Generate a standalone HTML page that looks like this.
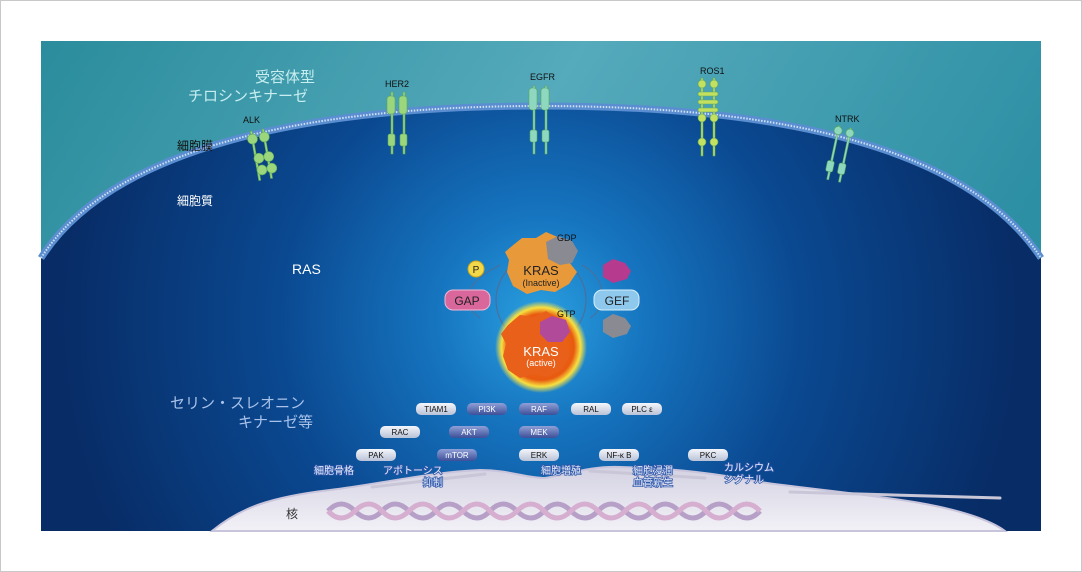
<!DOCTYPE html>
<html><head><meta charset="utf-8"><style>
html,body{margin:0;padding:0;background:#fff;}
body{width:1082px;height:572px;position:relative;overflow:hidden;font-family:"Liberation Sans","Noto Sans CJK JP",sans-serif;}
svg{position:absolute;left:0;top:0;}
</style></head><body>
<svg width="1082" height="572" viewBox="0 0 1082 572" xmlns="http://www.w3.org/2000/svg" font-family="Liberation Sans, Noto Sans CJK JP, sans-serif">
<defs>
<linearGradient id="teal" x1="0" y1="0" x2="1" y2="0.3">
<stop offset="0" stop-color="#2a8c9c"/><stop offset="0.5" stop-color="#55aabb"/><stop offset="1" stop-color="#2d8fa4"/></linearGradient>
<radialGradient id="cell" cx="540" cy="320" r="480" gradientUnits="userSpaceOnUse">
<stop offset="0" stop-color="#2aa0e0"/><stop offset="0.22" stop-color="#1674bf"/><stop offset="0.55" stop-color="#0a4890"/><stop offset="1" stop-color="#082c66"/></radialGradient>
<linearGradient id="nuc" x1="0" y1="0" x2="0" y2="1"><stop offset="0" stop-color="#d4d2e2"/><stop offset="1" stop-color="#f2f1f7"/></linearGradient>
<radialGradient id="kact" cx="0.5" cy="0.5" r="0.5"><stop offset="0" stop-color="#f07a22"/><stop offset="0.72" stop-color="#e85a10"/><stop offset="0.86" stop-color="#f7e040"/><stop offset="1" stop-color="#f7e040" stop-opacity="0"/></radialGradient>
<linearGradient id="pill" x1="0" y1="0" x2="0" y2="1"><stop offset="0" stop-color="#f4f6fb"/><stop offset="1" stop-color="#b9c2d6"/></linearGradient>
<linearGradient id="pillb" x1="0" y1="0" x2="0" y2="1"><stop offset="0" stop-color="#8fa0d8"/><stop offset="1" stop-color="#3d4f98"/></linearGradient>
</defs>
<rect x="0.5" y="0.5" width="1081" height="571" fill="#fff" stroke="#c8c8c8"/>
<rect x="41" y="41" width="1000" height="490" fill="url(#teal)"/>
<path d="M41,258 C110,150 300,106 541,106 C790,106 970,150 1041,258 L1041,531 L41,531 Z" fill="url(#cell)"/>
<path d="M41,258 C110,150 300,106 541,106 C790,106 970,150 1041,258" fill="none" stroke="#5a8ed0" stroke-width="7"/>
<path d="M41,258 C110,150 300,106 541,106 C790,106 970,150 1041,258" fill="none" stroke="#cfe0f5" stroke-width="2" stroke-dasharray="1.5 1.5"/>
<!-- nucleus -->
<path d="M212,531 C240,508 270,497 330,490 C380,484 430,472 480,470 C510,470 525,478 545,478 C570,474 590,466 620,467 C670,468 720,474 760,482 C800,488 860,493 920,503 C960,510 990,520 1005,531 Z" fill="url(#nuc)" stroke="#c8c4dc" stroke-width="2"/>
<g fill="none" stroke="#c9c6d8" stroke-width="3" stroke-linecap="round">
<path d="M372,487 L485,474"/><path d="M590,471 L705,478"/><path d="M790,492 L1000,498"/>
</g>
<!-- DNA -->
<g fill="none" stroke-width="5">
<path d="M328,511 q13,-14 27,0 t27,0 t27,0 t27,0 t27,0 t27,0 t27,0 t27,0 t27,0 t27,0 t27,0 t27,0 t27,0 t27,0 t27,0 t27,0" stroke="#b7a0c8"/>
<path d="M328,511 q13,14 27,0 t27,0 t27,0 t27,0 t27,0 t27,0 t27,0 t27,0 t27,0 t27,0 t27,0 t27,0 t27,0 t27,0 t27,0 t27,0" stroke="#d6aed0"/>
</g>
<text x="286" y="518" font-size="12" fill="#333">核</text>
<!-- labels -->
<g fill="#c8eef0" font-size="15">
<text x="255" y="82">受容体型</text><text x="188" y="101">チロシンキナーゼ</text></g>
<text x="177" y="150" font-size="12" fill="#111">細胞膜</text>
<text x="177" y="205" font-size="12" fill="#fff">細胞質</text>
<text x="292" y="274" font-size="14" fill="#fff">RAS</text>
<g fill="#a9c2ea" font-size="15"><text x="170" y="408">セリン・スレオニン</text><text x="238" y="427">キナーゼ等</text></g>
<g font-size="9" fill="#111">
<text x="243" y="123">ALK</text><text x="385" y="87">HER2</text><text x="530" y="80">EGFR</text><text x="700" y="74">ROS1</text><text x="835" y="122">NTRK</text></g>
<!-- receptors -->
<g fill="#9bd67c" stroke="#5ca85a" stroke-width="0.6">
<g transform="translate(258,130) rotate(-10)"><rect x="-8" y="0" width="2" height="50"/><rect x="4" y="0" width="2" height="50"/><circle cx="-7" cy="8" r="5"/><circle cx="5" cy="8" r="5"/><circle cx="-4" cy="28" r="5"/><circle cx="6" cy="28" r="5"/><circle cx="-3" cy="40" r="5"/><circle cx="7" cy="40" r="5"/></g>
<g transform="translate(398,92)"><rect x="-7" y="0" width="2" height="62"/><rect x="5" y="0" width="2" height="62"/><rect x="-11" y="4" width="8" height="18" rx="3"/><rect x="1" y="4" width="8" height="18" rx="3"/><rect x="-10" y="42" width="7" height="12" rx="2"/><rect x="2" y="42" width="7" height="12" rx="2"/></g>
<g transform="translate(540,86)" fill="#8fd8c0"><rect x="-7" y="0" width="2" height="68"/><rect x="5" y="0" width="2" height="68"/><rect x="-11" y="2" width="8" height="22" rx="3"/><rect x="1" y="2" width="8" height="22" rx="3"/><rect x="-10" y="44" width="7" height="12" rx="2"/><rect x="2" y="44" width="7" height="12" rx="2"/></g>
<g transform="translate(708,78)" fill="#c4e060"><rect x="-7" y="0" width="2" height="78"/><rect x="5" y="0" width="2" height="78"/><circle cx="-6" cy="6" r="4"/><circle cx="6" cy="6" r="4"/><rect x="-10" y="14" width="20" height="4" rx="2"/><rect x="-10" y="22" width="20" height="4" rx="2"/><rect x="-10" y="30" width="20" height="4" rx="2"/><circle cx="-6" cy="40" r="4"/><circle cx="6" cy="40" r="4"/><circle cx="-6" cy="64" r="4"/><circle cx="6" cy="64" r="4"/></g>
<g transform="translate(845,127) rotate(12)" fill="#8fd8c0"><rect x="-7" y="0" width="2" height="55"/><rect x="5" y="0" width="2" height="55"/><circle cx="-6" cy="5" r="4"/><circle cx="6" cy="5" r="4"/><rect x="-10" y="36" width="7" height="11" rx="2"/><rect x="2" y="36" width="7" height="11" rx="2"/></g>
</g>
<!-- cycle -->
<circle cx="541" cy="300" r="45" fill="none" stroke="#4a6f9c" stroke-width="1.2"/>
<path d="M500,265 C470,280 455,300 480,318" fill="none" stroke="#4a6f9c"/>
<path d="M582,265 C610,280 605,310 590,318" fill="none" stroke="#4a6f9c"/>
<!-- KRAS inactive -->
<path d="M512,246 l10,-8 14,0 10,-6 14,6 10,12 -1,12 8,10 -8,12 -14,8 -14,-2 -14,4 -14,-8 -6,-14 2,-12 -4,-8z" fill="#e89a3a"/>
<path d="M546,242 l12,-6 14,5 6,10 -6,12 -12,2 -12,-6z" fill="#8a8a92"/>
<text x="541" y="275" font-size="13" text-anchor="middle" fill="#222">KRAS</text>
<text x="541" y="286" font-size="9" text-anchor="middle" fill="#222">(Inactive)</text>
<text x="557" y="241" font-size="9" fill="#111">GDP</text>
<!-- KRAS active -->
<circle cx="541" cy="347" r="46" fill="url(#kact)"/>
<path d="M508,325 l12,-10 14,2 12,-6 12,8 8,12 -2,14 6,10 -8,14 -14,8 -14,-3 -14,4 -12,-8 -5,-14 3,-12 -5,-10z" fill="#e8601a"/>
<path d="M540,322 l12,-6 14,4 4,12 -8,10 -14,0 -8,-8z" fill="#b24a9a"/>
<text x="541" y="356" font-size="13" text-anchor="middle" fill="#fff">KRAS</text>
<text x="541" y="366" font-size="9" text-anchor="middle" fill="#fff">(active)</text>
<text x="557" y="317" font-size="9" fill="#111">GTP</text>
<circle cx="476" cy="269" r="8" fill="#f3d84a" stroke="#c9a81a"/>
<text x="476" y="273" font-size="10" text-anchor="middle" fill="#222">P</text>
<rect x="445" y="290" width="45" height="20" rx="8" fill="#d9679c" stroke="#f3b7d3"/>
<text x="467" y="305" font-size="12" text-anchor="middle" fill="#222">GAP</text>
<rect x="594" y="290" width="45" height="20" rx="8" fill="#8ec8ec" stroke="#d7eefa"/>
<text x="617" y="305" font-size="12" text-anchor="middle" fill="#222">GEF</text>
<path d="M603,265 l10,-6 12,4 6,8 -4,8 -14,4 -10,-6z" fill="#b63a8e"/>
<path d="M603,320 l10,-6 12,4 6,8 -4,8 -14,4 -10,-6z" fill="#8a8a92"/>
<!-- pills -->
<g font-size="8" text-anchor="middle">
<rect x="416" y="403" width="40" height="12" rx="5" fill="url(#pill)"/><text x="436" y="412" fill="#111">TIAM1</text>
<rect x="467" y="403" width="40" height="12" rx="5" fill="url(#pillb)"/><text x="487" y="412" fill="#fff">PI3K</text>
<rect x="519" y="403" width="40" height="12" rx="5" fill="url(#pillb)"/><text x="539" y="412" fill="#fff">RAF</text>
<rect x="571" y="403" width="40" height="12" rx="5" fill="url(#pill)"/><text x="591" y="412" fill="#111">RAL</text>
<rect x="622" y="403" width="40" height="12" rx="5" fill="url(#pill)"/><text x="642" y="412" fill="#111">PLC ε</text>
<rect x="380" y="426" width="40" height="12" rx="5" fill="url(#pill)"/><text x="400" y="435" fill="#111">RAC</text>
<rect x="449" y="426" width="40" height="12" rx="5" fill="url(#pillb)"/><text x="469" y="435" fill="#fff">AKT</text>
<rect x="519" y="426" width="40" height="12" rx="5" fill="url(#pillb)"/><text x="539" y="435" fill="#fff">MEK</text>
<rect x="356" y="449" width="40" height="12" rx="5" fill="url(#pill)"/><text x="376" y="458" fill="#111">PAK</text>
<rect x="437" y="449" width="40" height="12" rx="5" fill="url(#pillb)"/><text x="457" y="458" fill="#fff">mTOR</text>
<rect x="519" y="449" width="40" height="12" rx="5" fill="url(#pill)"/><text x="539" y="458" fill="#111">ERK</text>
<rect x="599" y="449" width="40" height="12" rx="5" fill="url(#pill)"/><text x="619" y="458" fill="#111">NF-κ B</text>
<rect x="688" y="449" width="40" height="12" rx="5" fill="url(#pill)"/><text x="708" y="458" fill="#111">PKC</text>
</g>
<g font-size="10" fill="#e6eefc" stroke="#2f55a8" stroke-width="1.6" paint-order="stroke">
<text x="314" y="474">細胞骨格</text><text x="383" y="474">アポトーシス</text><text x="423" y="486">抑制</text>
<text x="541" y="474">細胞増殖</text><text x="633" y="474">細胞浸潤</text><text x="633" y="486">血管新生</text>
<text x="724" y="471">カルシウム</text><text x="724" y="483">シグナル</text></g>
</svg>
</body></html>
